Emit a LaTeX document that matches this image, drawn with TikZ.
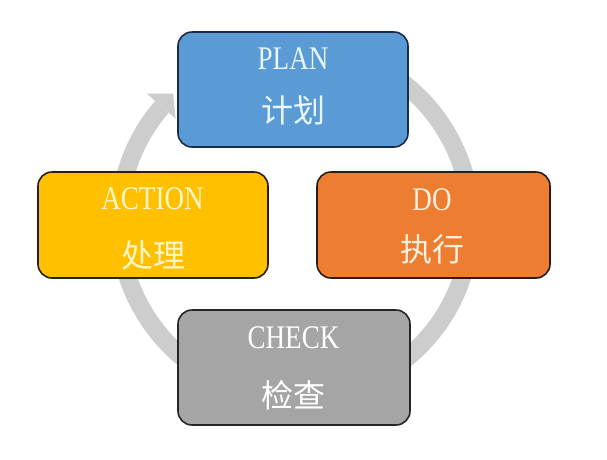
\documentclass[tikz,border=0pt]{standalone}
\usepackage{fontspec}
\setmainfont{Liberation Serif}[FakeStretch=0.82]
\newfontfamily\cjk{Noto Sans CJK SC}
\definecolor{ringgray}{RGB}{205,205,205}
\definecolor{planfill}{RGB}{91,155,213}
\definecolor{planline}{RGB}{28,44,70}
\definecolor{planfont}{RGB}{232,246,255}
\definecolor{actfill}{RGB}{255,192,0}
\definecolor{actfont}{RGB}{255,246,200}
\definecolor{dofill}{RGB}{237,125,49}
\definecolor{dofont}{RGB}{255,240,224}
\definecolor{chkfill}{RGB}{165,165,165}
\definecolor{darkline}{RGB}{40,30,20}
\begin{document}
\begin{tikzpicture}[x=1pt,y=-1pt,
  box/.style={draw=darkline, rounded corners=14pt, line width=1.6pt, inner sep=0pt},
  lat/.style={inner sep=0pt, font=\fontsize{33}{36}\selectfont},
  han/.style={inner sep=0pt, font=\fontsize{32}{36}\selectfont\cjk}]
\useasboundingbox (0,0) rectangle (607,459);
% cycle ring
\coordinate (c) at (295,222);
\draw[ringgray, line width=18pt] ([shift={(-80:176)}]c) arc[start angle=-80, end angle=220.9, radius=176];
\fill[ringgray] ([shift={(220.9:158)}]c) -- ([shift={(226.5:177)}]c) -- ([shift={(220.9:196)}]c) -- cycle;
% boxes
\node[box, fill=planfill, draw=planline, minimum width=230pt, minimum height=115pt] (plan) at (293,89.5) {};
\node[box, fill=actfill, minimum width=230pt, minimum height=106pt] (act) at (153,225) {};
\node[box, fill=dofill, minimum width=233pt, minimum height=106pt] (do) at (433.5,225) {};
\node[box, fill=chkfill, draw=black!85, minimum width=232pt, minimum height=115pt] (chk) at (294,367.5) {};
% texts
\node[lat, text=planfont] (plant) at (293,59) {PLAN};
\node[han, text=planfont] (planc) at (293,110) {计划};
\node[lat, text=actfont] (actt) at (152.5,199) {ACTION};
\node[han, text=actfont] (actc) at (153,255) {处理};
\node[lat, text=dofont] (dot) at (432,200) {DO};
\node[han, text=dofont] (doc) at (432,249) {执行};
\node[lat, text=white] (chkt) at (293.5,337.5) {CHECK};
\node[han, text=white] (chkc) at (293,395) {检查};
\end{tikzpicture}
\end{document}
